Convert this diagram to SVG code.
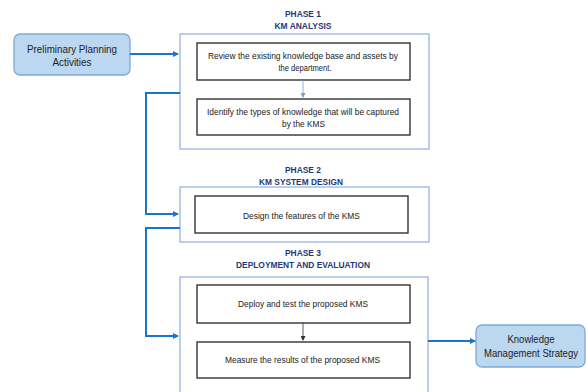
<svg xmlns="http://www.w3.org/2000/svg" width="586" height="392" viewBox="0 0 586 392">
<defs>
<style>
.t{font-family:"Liberation Sans",Arial,sans-serif;font-size:8.6px;fill:#222;text-anchor:middle}
.h{font-family:"Liberation Sans",Arial,sans-serif;font-size:8.6px;font-weight:bold;fill:#1f3a78;text-anchor:middle}
.b{font-family:"Liberation Sans",Arial,sans-serif;font-size:11px;fill:#222;text-anchor:middle}
.cont{fill:#fff;stroke:#8eb0e0;stroke-width:1.2}
.inner{fill:#fff;stroke:#333;stroke-width:1.4}
.term{fill:#bcd7f0;stroke:#7ea9d8;stroke-width:1.3}
.conn{fill:none;stroke:#1b74c9;stroke-width:2}
</style>
<marker id="ab" markerWidth="6" markerHeight="6" refX="5" refY="3" orient="auto" markerUnits="userSpaceOnUse"><path d="M0,0 L6,3 L0,6 z" fill="#1b74c9"/></marker>
<marker id="al" markerWidth="5" markerHeight="5" refX="4" refY="2.5" orient="auto" markerUnits="userSpaceOnUse"><path d="M0,0 L5,2.5 L0,5 z" fill="#6f9fd8"/></marker>
<marker id="ak" markerWidth="5" markerHeight="5" refX="4" refY="2.5" orient="auto" markerUnits="userSpaceOnUse"><path d="M0,0 L5,2.5 L0,5 z" fill="#333"/></marker>
</defs>
<rect width="586" height="392" fill="#fff"/>

<g id="prelim">
<rect class="term" x="14" y="34" width="116" height="41" rx="6"/>
<text class="b" x="72" y="53" textLength="90" lengthAdjust="spacingAndGlyphs">Preliminary Planning</text>
<text class="b" x="72" y="66" textLength="39" lengthAdjust="spacingAndGlyphs">Activities</text>
</g>

<g id="phase1">
<text class="h" x="303" y="17" textLength="36" lengthAdjust="spacingAndGlyphs">PHASE 1</text>
<text class="h" x="303" y="29" textLength="57" lengthAdjust="spacingAndGlyphs">KM ANALYSIS</text>
<rect class="cont" x="180" y="34" width="249" height="115"/>
<g id="p1a">
<rect class="inner" x="197" y="43" width="213" height="37"/>
<text class="t" x="303" y="59" textLength="190" lengthAdjust="spacingAndGlyphs">Review the existing knowledge base and assets by</text>
<text class="t" x="305" y="71" textLength="53" lengthAdjust="spacingAndGlyphs">the department.</text>
</g>
<g id="p1b">
<rect class="inner" x="197" y="99" width="213" height="36"/>
<text class="t" x="303" y="115" textLength="192" lengthAdjust="spacingAndGlyphs">Identify the types of knowledge that will be captured</text>
<text class="t" x="303.5" y="127" textLength="43" lengthAdjust="spacingAndGlyphs">by the KMS</text>
</g>
</g>

<g id="phase2">
<text class="h" x="303" y="173" textLength="36" lengthAdjust="spacingAndGlyphs">PHASE 2</text>
<text class="h" x="301" y="185" textLength="84" lengthAdjust="spacingAndGlyphs">KM SYSTEM DESIGN</text>
<rect class="cont" x="180" y="187" width="249" height="55"/>
<g id="p2a">
<rect class="inner" x="195" y="196" width="213" height="37"/>
<text class="t" x="301.5" y="219" textLength="117" lengthAdjust="spacingAndGlyphs">Design the features of the KMS</text>
</g>
</g>

<g id="phase3">
<text class="h" x="303" y="256" textLength="36" lengthAdjust="spacingAndGlyphs">PHASE 3</text>
<text class="h" x="303" y="268" textLength="134" lengthAdjust="spacingAndGlyphs">DEPLOYMENT AND EVALUATION</text>
<rect class="cont" x="180" y="277" width="248" height="130"/>
<g id="p3a">
<rect class="inner" x="197" y="285" width="213" height="38"/>
<text class="t" x="303" y="307" textLength="130" lengthAdjust="spacingAndGlyphs">Deploy and test the proposed KMS</text>
</g>
<g id="p3b">
<rect class="inner" x="197" y="342" width="213" height="36"/>
<text class="t" x="302.5" y="363" textLength="155" lengthAdjust="spacingAndGlyphs">Measure the results of the proposed KMS</text>
</g>
</g>

<g id="kms">
<rect class="term" x="476" y="325" width="109" height="42" rx="6"/>
<text class="b" x="531" y="343" style="font-size:10.2px" textLength="47" lengthAdjust="spacingAndGlyphs">Knowledge</text>
<text class="b" x="531" y="357" style="font-size:10.2px" textLength="94" lengthAdjust="spacingAndGlyphs">Management Strategy</text>
</g>

<g id="connectors">
<path class="conn" d="M130,54 L178,54" marker-end="url(#ab)"/>
<path class="conn" d="M180,93 L146,93 L146,214 L178,214" marker-end="url(#ab)"/>
<path class="conn" d="M180,228 L146,228 L146,336 L178,336" marker-end="url(#ab)"/>
<path class="conn" d="M428,341 L475,341" marker-end="url(#ab)"/>
<path d="M303,80 L303,97" fill="none" stroke="#6f9fd8" stroke-width="0.8" marker-end="url(#al)"/>
<path d="M303,323 L303,340" fill="none" stroke="#333" stroke-width="0.8" marker-end="url(#ak)"/>
</g>
</svg>
